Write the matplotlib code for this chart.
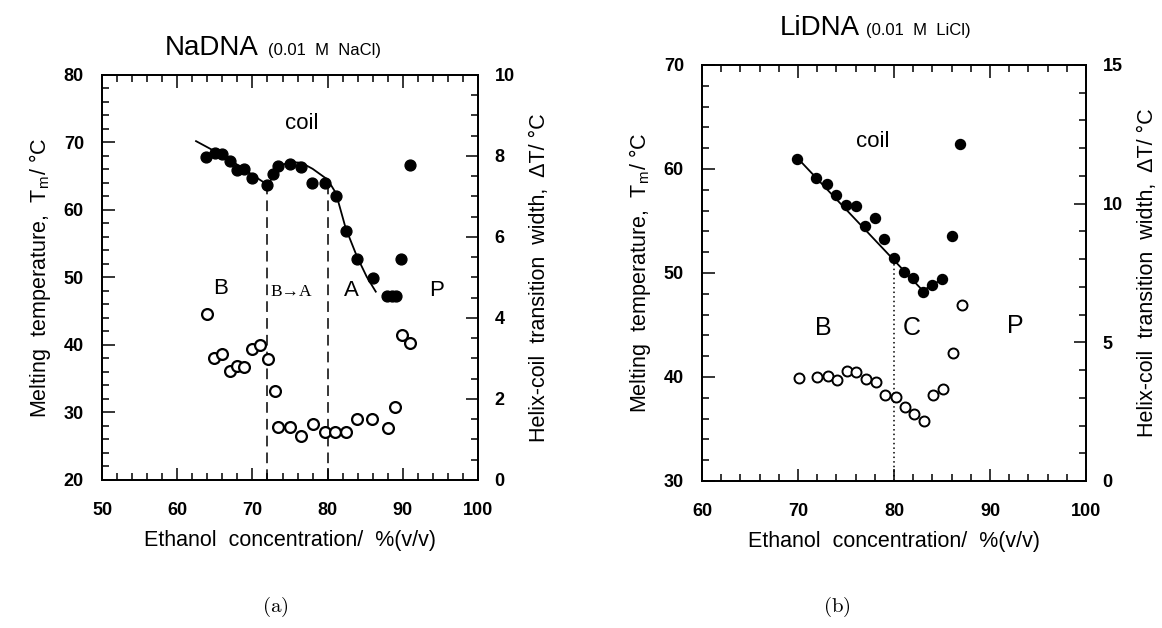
import matplotlib
matplotlib.use("Agg")
import matplotlib.pyplot as plt
from matplotlib.ticker import MultipleLocator

plt.rcParams["font.family"] = ["Liberation Sans", "DejaVu Sans"]
plt.rcParams["mathtext.fontset"] = "cm"

# ── NaDNA (0.01 M NaCl) ────────────────────────────────────────────────────
na_tm_x = [63.8, 65.0, 65.9, 67.0, 67.9, 68.9, 70.0, 72.0, 72.8, 73.4, 75.0,
           76.5, 77.9, 79.6, 81.1, 82.4, 83.9, 86.0, 87.9, 88.5, 89.1, 89.8, 91.0]
na_tm_y = [67.8, 68.4, 68.3, 67.3, 65.9, 66.0, 64.8, 63.7, 65.4, 66.5, 66.8,
           66.4, 64.0, 64.0, 62.1, 56.9, 52.7, 49.9, 47.3, 47.3, 47.3, 52.7, 66.7]

na_fit_x = [62.5, 64.0, 66.0, 68.0, 70.0, 71.5, 72.2, 73.2, 74.0, 75.0, 76.5,
            78.0, 79.0, 80.0, 81.1, 82.4, 83.9, 85.2, 86.4]
na_fit_y = [70.2, 69.3, 68.1, 66.7, 65.2, 64.1, 64.0, 65.8, 66.7, 67.1, 67.0,
            66.1, 65.3, 64.5, 62.5, 57.3, 53.1, 50.1, 47.9]

na_dt_x = [63.9, 64.9, 66.0, 67.0, 67.9, 68.9, 70.0, 71.0, 72.1, 73.0, 73.4,
           75.0, 76.5, 78.0, 79.6, 81.0, 82.4, 83.9, 85.9, 88.0, 88.9, 89.9, 91.0]
na_dt_y = [4.10, 3.02, 3.10, 2.69, 2.81, 2.80, 3.23, 3.33, 2.99, 2.20, 1.30,
           1.30, 1.09, 1.38, 1.18, 1.18, 1.18, 1.50, 1.50, 1.29, 1.79, 3.58, 3.37]

na_bounds = [72, 80]
na_bounds_top = [63.7, 64.8]

# ── LiDNA (0.01 M LiCl) ────────────────────────────────────────────────────
li_tm_x = [69.9, 71.9, 73.0, 74.0, 75.0, 76.0, 77.0, 78.0, 79.0, 80.0, 81.0,
           82.0, 83.0, 84.0, 85.0, 86.0, 86.9]
li_tm_y = [61.0, 59.1, 58.6, 57.5, 56.5, 56.4, 54.5, 55.3, 53.3, 51.4, 50.1,
           49.5, 48.2, 48.8, 49.4, 53.6, 62.4]

li_fit_x = [69.9, 83.0, 85.0]
li_fit_y = [61.1, 48.3, 49.4]

li_dt_x = [70.1, 72.0, 73.1, 74.1, 75.1, 76.0, 77.1, 78.1, 79.1, 80.2, 81.1,
           82.1, 83.1, 84.1, 85.1, 86.1, 87.1]
li_dt_y = [3.70, 3.74, 3.80, 3.64, 3.98, 3.94, 3.68, 3.56, 3.10, 3.04, 2.66,
           2.42, 2.18, 3.10, 3.32, 4.60, 6.35]

li_bound = 80
li_bound_top = 51.0

XLABEL = "Ethanol  concentration/  %(v/v)"
TM_LABEL = r"Melting  temperature,  T$_\mathregular{m}$/ °C"
DT_LABEL = "Helix-coil  transition  width,  ΔT/ °C"


def style_axes(ax, axr, xmaj, ymaj, ymin, rmaj, rmin):
    for a in (ax, axr):
        for sp in a.spines.values():
            sp.set_linewidth(1.3)
    ax.xaxis.set_major_locator(MultipleLocator(xmaj))
    ax.xaxis.set_minor_locator(MultipleLocator(2))
    ax.yaxis.set_major_locator(MultipleLocator(ymaj))
    ax.yaxis.set_minor_locator(MultipleLocator(ymin))
    axr.yaxis.set_major_locator(MultipleLocator(rmaj))
    axr.yaxis.set_minor_locator(MultipleLocator(rmin))
    ax.tick_params(which="both", direction="in", top=True, right=False,
                   labelsize=13, pad=13, width=1.1)
    ax.tick_params(axis="x", pad=16)
    axr.tick_params(which="both", direction="in", labelsize=13, pad=12,
                    width=1.1)
    for a in (ax, axr):
        a.tick_params(which="major", length=9)
        a.tick_params(which="minor", length=5)
    for lbl in ax.get_xticklabels() + ax.get_yticklabels() + axr.get_yticklabels():
        lbl.set_fontweight("bold")
    ax.set_xlabel(XLABEL, fontsize=15.5, labelpad=8)
    ax.set_ylabel(TM_LABEL, fontsize=15.5, labelpad=8)
    axr.set_ylabel(DT_LABEL, fontsize=15.5, labelpad=10)


fig = plt.figure(figsize=(11.62, 6.28), dpi=100, facecolor="white")

# ── panel (a) ──
ax1 = fig.add_axes([0.0878, 0.2357, 0.3236, 0.6449])
ax1r = ax1.twinx()
ax1.set_xlim(50, 100)
ax1.set_ylim(20, 80)
ax1r.set_ylim(0, 10)

ax1.plot(na_fit_x, na_fit_y, color="black", lw=1.3, zorder=2)
ax1.plot(na_tm_x, na_tm_y, "o", color="black", ms=7.8, zorder=3)
ax1r.plot(na_dt_x, na_dt_y, "o", mfc="white", mec="black", mew=1.6, ms=7.8)
for xb, yt in zip(na_bounds, na_bounds_top):
    ax1.plot([xb, xb], [20, yt], color="black", lw=1.1,
             ls=(0, (7, 4)), zorder=1)

ax1.text(76.5, 72.8, "coil", fontsize=16, ha="center", va="center")
ax1.text(65.7, 48.3, "B", fontsize=16, ha="center", va="center")
ax1.text(75.2, 47.9, "B→A", fontsize=12.5, ha="center", va="center",
         family=["Liberation Serif", "DejaVu Serif"])
ax1.text(83.1, 48.0, "A", fontsize=16, ha="center", va="center")
ax1.text(94.5, 48.1, "P", fontsize=16, ha="center", va="center")
style_axes(ax1, ax1r, 10, 10, 2, 2, 0.5)

# ── panel (b) ──
ax2 = fig.add_axes([0.6041, 0.2341, 0.3305, 0.6624])
ax2r = ax2.twinx()
ax2.set_xlim(60, 100)
ax2.set_ylim(30, 70)
ax2r.set_ylim(0, 15)

ax2.plot(li_fit_x, li_fit_y, color="black", lw=1.3, zorder=2)
ax2.plot(li_tm_x, li_tm_y, "o", color="black", ms=7.2, zorder=3)
ax2r.plot(li_dt_x, li_dt_y, "o", mfc="white", mec="black", mew=1.4, ms=7.2)
ax2.plot([li_bound, li_bound], [30, li_bound_top], color="black", lw=1.1,
         ls=(0, (1, 2)), zorder=1)

ax2.text(77.8, 62.6, "coil", fontsize=16, ha="center", va="center")
ax2.text(72.6, 44.7, "B", fontsize=18, ha="center", va="center")
ax2.text(81.9, 44.7, "C", fontsize=18, ha="center", va="center")
ax2.text(92.6, 44.9, "P", fontsize=18, ha="center", va="center")
style_axes(ax2, ax2r, 10, 10, 2, 5, 1)

# ── titles and sub-captions ──
fig.text(165 / 1162, 1 - 55 / 628, "NaDNA", fontsize=20, va="baseline")
fig.text(268 / 1162, 1 - 55 / 628, "(0.01  M  NaCl)", fontsize=12,
         va="baseline")
fig.text(780 / 1162, 1 - 35 / 628, "LiDNA", fontsize=20, va="baseline")
fig.text(866 / 1162, 1 - 35 / 628, "(0.01  M  LiCl)", fontsize=12,
         va="baseline")
fig.text(275 / 1162, 1 - 607 / 628, r"$\mathrm{(a)}$", fontsize=15,
         ha="center", va="center")
fig.text(837 / 1162, 1 - 607 / 628, r"$\mathrm{(b)}$", fontsize=15,
         ha="center", va="center")

fig.savefig("out.png", dpi=100, facecolor="white")
